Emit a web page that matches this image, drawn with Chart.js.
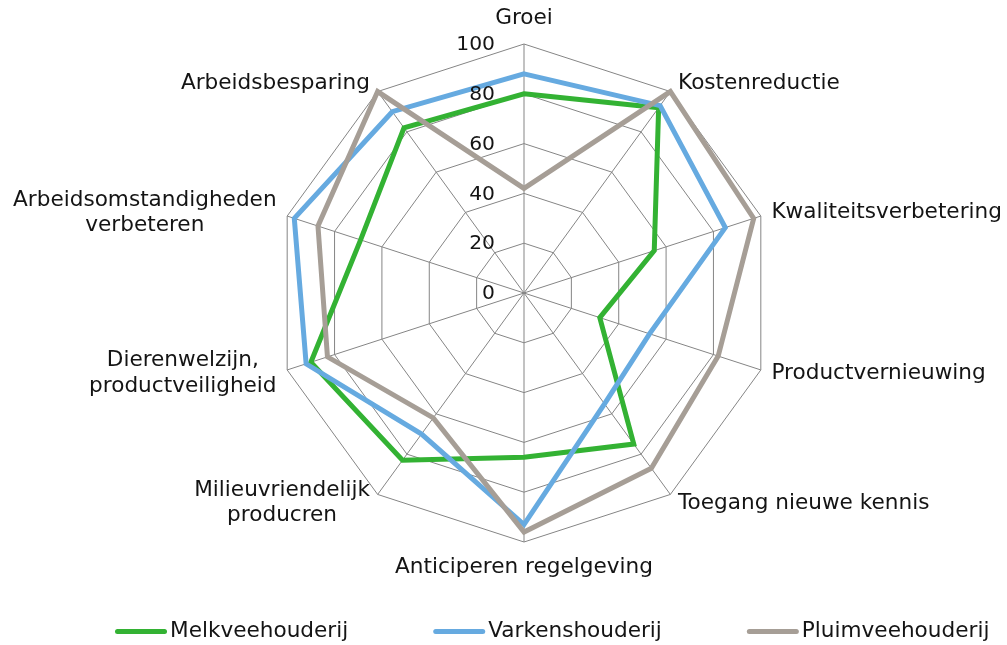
<!DOCTYPE html>
<html lang="nl">
<head>
<meta charset="utf-8">
<title>Innovatiedoelen per sector</title>
<script src="https://cdn.jsdelivr.net/npm/chart.js@4.4.1/dist/chart.umd.min.js"></script>
<style>
  html, body { margin: 0; padding: 0; background: #ffffff; }
  #wrap { width: 1007px; height: 645px; }
</style>
</head>
<body>
<div id="wrap"><canvas id="chart" width="1007" height="645"></canvas></div>
<script>
// ========================================
// DATA
// ========================================

const categories = [
    'Groei',
    'Kostenreductie',
    'Kwaliteitsverbetering',
    'Productvernieuwing',
    'Toegang nieuwe kennis',
    'Anticiperen regelgeving',
    ['Milieuvriendelijk', 'producren'],
    ['Dierenwelzijn,', 'productveiligheid'],
    ['Arbeidsomstandigheden', 'verbeteren'],
    'Arbeidsbesparing'
];

const melkveehouderij  = [80, 92, 55, 32, 75, 66, 83, 90, 69, 82];
const varkenshouderij  = [88, 93, 85, 53, 55, 93, 70, 92, 97, 90];
const pluimveehouderij = [42, 100, 97, 82, 87, 96, 62, 83, 87, 100];

const seriesNames = ['Melkveehouderij', 'Varkenshouderij', 'Pluimveehouderij'];
const scaleTicks = [0, 20, 40, 60, 80, 100];

// ========================================
// STYLE
// ========================================

const COLORS = {
    melk: '#33B233',
    varken: '#66AAE0',
    pluim: '#A69E96',
    grid: '#858585',
    text: '#141414'
};

const FONT = "'DejaVu Sans', Verdana, sans-serif";
const LABEL_SIZE = 21.6;
const LEGEND_SIZE = 21.6;
const TICK_SIZE = 20.3;
const LINE_HEIGHT = 25.5;

// ========================================
// TEXT PLUGIN (ticks, category labels, legend)
// ========================================

const radarText = {
    id: 'radarText',
    afterDraw(chart) {
        const ctx = chart.ctx;
        const scale = chart.scales.r;
        ctx.save();
        ctx.fillStyle = COLORS.text;

        // tick labels, left of the top axis
        ctx.font = `${TICK_SIZE}px ${FONT}`;
        ctx.textAlign = 'right';
        ctx.textBaseline = 'middle';
        scale.ticks.forEach(t => {
            const y = scale.yCenter - scale.getDistanceFromCenterForValue(t.value);
            ctx.fillText(String(t.value), scale.xCenter - 29, y + 1);
        });

        // category labels
        ctx.font = `${LABEL_SIZE}px ${FONT}`;
        ctx.textAlign = 'center';
        chart.data.labels.forEach((label, i) => {
            const lines = Array.isArray(label) ? label : [label];
            const angle = scale.getIndexAngle(i);
            const sin = Math.sin(angle);
            const cos = Math.cos(angle);
            const p = scale.getPointPosition(i, scale.drawingArea);
            const h = lines.length * LINE_HEIGHT;
            const w = Math.max(...lines.map(l => ctx.measureText(l).width));
            let cx, cy;
            if (Math.abs(sin) < 0.05) {
                cx = p.x;
                cy = p.y - cos * (13 + h / 2);
            } else {
                const gap = 3 + 8 * Math.abs(sin);
                cx = sin > 0 ? p.x + gap + w / 2 : p.x - gap - w / 2;
                cy = p.y - 10.5 * cos;
            }
            lines.forEach((l, k) => {
                ctx.fillText(l, cx, cy - h / 2 + LINE_HEIGHT * (k + 0.5));
            });
        });

        // legend
        ctx.font = `${LEGEND_SIZE}px ${FONT}`;
        let x = 115;
        const ly = 631.5;
        ctx.textAlign = 'left';
        chart.data.datasets.forEach(ds => {
            ctx.strokeStyle = ds.borderColor;
            ctx.lineWidth = 5;
            ctx.lineCap = 'round';
            ctx.beginPath();
            ctx.moveTo(x + 2.5, ly);
            ctx.lineTo(x + 49.5, ly);
            ctx.stroke();
            ctx.fillText(ds.label, x + 55, ly);
            x += 55 + ctx.measureText(ds.label).width + 85;
        });

        ctx.restore();
    }
};

// ========================================
// CHART
// ========================================

const seriesValues = [melkveehouderij, varkenshouderij, pluimveehouderij];
const seriesColors = [COLORS.melk, COLORS.varken, COLORS.pluim];

new Chart(document.getElementById('chart'), {
    type: 'radar',
    data: {
        labels: categories,
        datasets: seriesValues.map((values, i) => ({
            label: seriesNames[i],
            data: values,
            borderColor: seriesColors[i],
            backgroundColor: 'transparent',
            borderWidth: 5,
            borderJoinStyle: 'miter',
            fill: false,
            pointRadius: 0,
            pointHoverRadius: 0,
            tension: 0,
            order: seriesValues.length - i
        }))
    },
    options: {
        responsive: false,
        animation: false,
        devicePixelRatio: 1,
        layout: {
            padding: { left: 275, right: 234, top: 44, bottom: 103 }
        },
        plugins: {
            legend: { display: false },
            tooltip: { enabled: false }
        },
        scales: {
            r: {
                min: scaleTicks[0],
                max: scaleTicks[scaleTicks.length - 1],
                ticks: {
                    stepSize: scaleTicks[1] - scaleTicks[0],
                    display: false
                },
                grid: {
                    color: COLORS.grid,
                    lineWidth: 1
                },
                angleLines: {
                    color: COLORS.grid,
                    lineWidth: 1
                },
                pointLabels: { display: false }
            }
        }
    },
    plugins: [radarText]
});
</script>
</body>
</html>
